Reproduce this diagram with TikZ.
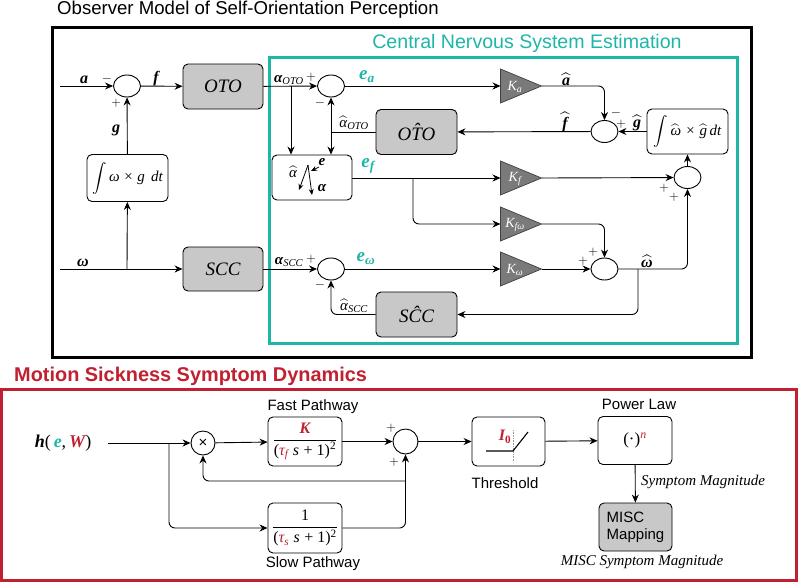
\RequirePackage{fix-cm}
\documentclass[tikz,border=0pt]{standalone}
\usepackage{amsmath}
\usepackage{fontspec}
\setmainfont{Liberation Sans}
\newfontfamily\serifit{Liberation Serif}
\usetikzlibrary{arrows.meta,shapes.geometric,calc}
\definecolor{cnsteal}{RGB}{30,182,166}
\definecolor{msred}{RGB}{192,32,48}
\definecolor{boxgray}{RGB}{200,200,200}
\definecolor{trigray}{RGB}{122,122,122}
\newcommand\ti[1]{{\serifit\itshape #1}}
\newcommand\tb[1]{{\serifit\bfseries\itshape #1}}
\newcommand\tr[1]{{\serifit #1}}
\newcommand\wh[1]{$\widehat{\hbox{#1}}$}
\newcommand\bigint{{\fontsize{14}{16}\selectfont$\displaystyle\int$}}
\newcommand\gaintri[4]{%
  \fill[trigray,draw=black!75,line width=0.7pt] (#2-20.5,#3-17) -- (#2+20.5,#3) -- (#2-20.5,#3+17) -- cycle;
  \coordinate (#1-in) at (#2-20.5,#3);
  \coordinate (#1-out) at (#2+20.5,#3);
  \node[text=white,font=\fontsize{14}{16}\selectfont,inner sep=0pt] (#1) at (#2-6,#3+1) {#4};
}
\begin{document}
\begin{tikzpicture}[x=1pt,y=-1pt,
  ln/.style={line width=0.9pt},
  arr/.style={ln,-{Stealth[length=8pt,width=7pt]}},
  gbox/.style={draw,line width=0.9pt,rounded corners=5pt,fill=boxgray,minimum width=80pt,minimum height=45pt,inner sep=0pt},
  wbox/.style={draw,line width=0.9pt,rounded corners=5pt,fill=white,minimum width=80pt,minimum height=45pt,inner sep=0pt},
  sumj/.style={draw,ellipse,line width=0.9pt,minimum width=27pt,minimum height=22pt,inner sep=0pt},
  lbl/.style={font=\fontsize{16}{18}\selectfont,inner sep=0pt},
  sub/.style={font=\fontsize{15}{17}\selectfont,inner sep=0pt},
  pm/.style={font=\fontsize{13}{15}\selectfont,inner sep=0pt},
  tealbl/.style={font=\fontsize{19}{21}\selectfont,text=cnsteal,inner sep=0pt},
  bigit/.style={font=\fontsize{19}{22}\selectfont\serifit\itshape},
  capt/.style={font=\fontsize{15}{17}\selectfont,inner sep=0pt},
  ital/.style={font=\fontsize{15}{17}\selectfont\serifit\itshape,inner sep=0pt},
]
\useasboundingbox (0,0) rectangle (800,582);
% ---------- top frame ----------
\node[anchor=west,font=\fontsize{18.6}{22}\selectfont,inner sep=0pt] (title1) at (57,10) {Observer Model of Self-Orientation Perception};
\draw[line width=3pt] (52.5,27) rectangle (751.5,357);
\node[font=\fontsize{19.6}{22}\selectfont,text=cnsteal,inner sep=0pt] (title2) at (527,43) {Central Nervous System Estimation};
\draw[cnsteal,line width=3pt] (269,57) rectangle (737,343);

% physical model
\node[sumj] (sumA) at (127,86) {};
\node[gbox,bigit] (OTO) at (223,86.5) {OTO};
\node[wbox,minimum width=81pt,minimum height=47pt,sub] (intg) at (127.5,178) {\bigint\,\ti{ω × g\, dt}};
\node[gbox,bigit,minimum height=44pt] (SCC) at (223,269) {SCC};
\coordinate (ain) at (60,86);
\coordinate (win) at (60,269);
\coordinate (jw) at (127,269);
\draw[arr] (ain) -- (sumA);
\node[lbl] (la) at (84,80) {\tb{a}};
\node[pm] (pA1) at (107,79) {$-$};
\node[pm] (pA2) at (116,103) {$+$};
\draw[arr] (sumA) -- (OTO);
\node[lbl] (lf) at (156,79) {\tb{f}};
\draw[arr] (intg) -- (sumA);
\node[lbl] (lg) at (116,130) {\tb{g}};
\draw[arr] (win) -- (SCC);
\node[lbl] (lw) at (83,263) {\tb{ω}};
\draw[arr] (jw) -- (intg);

% CNS model
\node[sumj] (sum2) at (331,86) {};
\node[gbox,bigit,minimum width=81pt] (OTOh) at (416.5,132) {O\^{T}O};
\node[wbox] (est) at (312,177.5) {};
\gaintri{Ka}{521}{86}{\ti{K}\textsubscript{\ti{a}}}
\node[sumj] (sum3) at (604.5,131.5) {};
\node[wbox,minimum width=81pt,sub] (intgh) at (687.5,131.5) {\bigint\,\wh{\ti{ω}} \ti{×} \wh{\ti{g}}\,\ti{dt}};
\gaintri{Kf}{521}{178}{\ti{K}\textsubscript{\ti{f}}}
\node[sumj] (sum4) at (687.5,177.5) {};
\gaintri{Kfw}{521}{224}{\ti{K}\textsubscript{\ti{fω}}}
\node[sumj] (sum5) at (604.5,269) {};
\gaintri{Kw}{521}{269}{\ti{K}\textsubscript{\ti{ω}}}
\node[sumj] (sum6) at (331,269) {};
\node[gbox,bigit,minimum width=81pt] (SCCh) at (416.5,314.5) {S\^{C}C};

\draw[arr] (OTO) -- (sum2);
\node[sub] (laoto) at (289,80) {\tb{α}\textsubscript{\ti{OTO}}};
\node[pm] (p21) at (311,77) {$+$};
\node[pm] (p22) at (320,103) {$-$};
\coordinate (j1) at (291,86);
\draw[arr] (j1) -- (j1 |- est.north);
\coordinate (j2) at (331,132);
\draw[ln] (OTOh.west) -- (j2);
\draw[arr] (j2) -- (sum2.south);
\draw[arr] (j2) -- (j2 |- est.north);
\node[sub] (lahoto) at (354,123) {\wh{\ti{α}}\textsubscript{\ti{OTO}}};
\draw[arr] (sum2) -- (Ka-in);
\node[tealbl] (lea) at (367,77) {\tb{e}\textsubscript{\tb{a}}};
\draw[arr,rounded corners=6pt] (Ka-out) -| (sum3.north);
\node[lbl] (lah) at (566,79) {\wh{\tb{a}}};
\node[pm] (p31) at (616,113) {$-$};
\node[pm] (p32) at (621,124) {$+$};
\draw[arr] (intgh) -- (sum3);
\node[lbl] (lgh) at (637,123) {\wh{\tb{g}}};
\draw[arr] (sum3) -- (OTOh);
\node[lbl] (lfh) at (565,122) {\wh{\tb{f}}};

% estimator box contents
\coordinate (apex) at (308,165);
\draw[line width=0.8pt,-{Stealth[length=6pt,width=5pt]}] (apex) -- (299,190);
\draw[line width=0.8pt,-{Stealth[length=6pt,width=5pt]}] (apex) -- (312,195);
\draw[line width=0.8pt,-{Stealth[length=6pt,width=5pt]}] (319,167) -- (311,171);
\node[sub] (eah) at (293,172) {\wh{\ti{α}}};
\node[sub] (ee) at (322,162) {\tb{e}};
\node[sub] (eal) at (322,188) {\tb{α}};

\draw[arr] (est.east |- Kf-in) -- (Kf-in);
\node[tealbl] (lef) at (368,166) {\tb{e}\textsubscript{\tb{f}}};
\coordinate (jf) at (413,178);
\draw[arr,rounded corners=6pt] (jf) |- (Kfw-in);
\draw[arr] (Kf-out) -- (sum4);
\node[pm] (p41) at (664,188) {$+$};
\node[pm] (p42) at (674,197) {$+$};
\draw[arr] (sum4) -- (intgh);
\draw[arr,rounded corners=6pt] (Kfw-out) -| (sum5.north);
\node[pm] (p51) at (593,252) {$+$};
\node[pm] (p52) at (583,261) {$+$};
\draw[arr] (Kw-out) -- (sum5);
\draw[arr] (sum6) -- (Kw-in);
\node[tealbl] (lew) at (366,259) {\tb{e}\textsubscript{\tb{ω}}};
\draw[arr] (SCC) -- (sum6);
\node[sub] (lascc) at (289,262) {\tb{α}\textsubscript{\ti{SCC}}};
\node[pm] (p61) at (311,259) {$+$};
\node[pm] (p62) at (320,285) {$-$};
\draw[arr,rounded corners=6pt] (sum5.east) -| (sum4.south);
\node[lbl] (lwh) at (647,261) {\wh{\tb{ω}}};
\coordinate (jw2) at (638,269);
\draw[arr,rounded corners=6pt] (jw2) |- (SCCh.east);
\draw[arr,rounded corners=6pt] (SCCh.west) -| (sum6.south);
\node[sub] (lahscc) at (354,306) {\wh{\ti{α}}\textsubscript{\ti{SCC}}};

% ---------- bottom frame ----------
\node[anchor=west,font=\fontsize{19.9}{22}\selectfont\bfseries,text=msred,inner sep=0pt] (title3) at (14,376) {Motion Sickness Symptom Dynamics};
\draw[msred,line width=3pt] (1.5,389) rectangle (796.5,580);

\node[font=\fontsize{18}{20}\selectfont,inner sep=0pt] (hW) at (63,443) {\tb{h}\tr{(\,}\textcolor{cnsteal}{\tb{e}}\tr{,\,}\textcolor{msred}{\tb{W}}\tr{)}};
\coordinate (hin) at (108,443);
\coordinate (jb) at (169,443);
\node[draw,circle,ln,minimum size=24pt,inner sep=0pt,font=\fontsize{15}{17}\selectfont] (mult) at (203,443) {×};
\node[wbox,minimum width=74pt,minimum height=49pt,font=\fontsize{16}{18}\selectfont] (fast) at (305,441.5) {$\dfrac{\hbox{\textcolor{msred}{\tb{K}}}}{\hbox{\tr{(}\textcolor{msred}{\ti{τ}\textsubscript{\ti{f}}}\ \ti{s} \tr{+ 1)\textsuperscript{2}}}}$};
\node[wbox,minimum width=74pt,minimum height=50pt,font=\fontsize{16}{18}\selectfont] (slow) at (305,528) {$\dfrac{\hbox{\tr{1}}}{\hbox{\tr{(}\textcolor{msred}{\ti{τ}\textsubscript{\ti{s}}}\ \ti{s} \tr{+ 1)\textsuperscript{2}}}}$};
\node[sumj,minimum width=25pt,minimum height=25pt] (sum7) at (405.5,441.5) {};
\node[wbox,minimum width=73pt,minimum height=49pt] (thr) at (508.5,441.5) {};
\node[wbox,minimum width=74pt,minimum height=48pt,font=\fontsize{17}{19}\selectfont] (pow) at (635,440.5) {\tr{(·)}\textsuperscript{\textcolor{msred}{\ti{n}}}};
\node[gbox,minimum width=73pt,minimum height=48pt,align=left,font=\fontsize{15}{17}\selectfont] (misc) at (635.5,527) {MISC\\Mapping};

\draw[arr] (hin) -- (mult);
\draw[arr,rounded corners=6pt] (jb) |- (slow.west);
\draw[arr] (mult) -- (fast);
\draw[arr] (fast) -- (sum7);
\draw[arr,rounded corners=6pt] (slow.east) -| (sum7.south);
\coordinate (jfb) at (405.5,481);
\draw[arr,rounded corners=6pt] (jfb) -| (mult.south);
\node[pm] (p71) at (391,428) {$+$};
\node[pm] (p72) at (394,462) {$+$};
\draw[arr] (sum7) -- (thr);
\draw[arr] (thr) -- (pow);
\draw[arr] (pow) -- (misc);

% threshold glyph
\draw[black!40,densely dotted,line width=0.6pt] (513,430) -- (513,462);
\draw[line width=1.1pt] (486,451) -- (513,451) -- (528,432);
\node[font=\fontsize{16}{18}\selectfont,text=msred,inner sep=0pt] (I0) at (505,437) {\tb{I}\textsubscript{\tr{\bfseries 0}}};

\node[capt] (lfast) at (313,407) {Fast Pathway};
\node[capt] (lslow) at (313,564) {Slow Pathway};
\node[capt] (lthr) at (505,483) {Threshold};
\node[capt] (lpow) at (639,404) {Power Law};
\node[ital,anchor=west] (lsm) at (641,482) {Symptom Magnitude};
\node[ital] (lmisc) at (642,562) {MISC Symptom Magnitude};
\end{tikzpicture}
\end{document}
